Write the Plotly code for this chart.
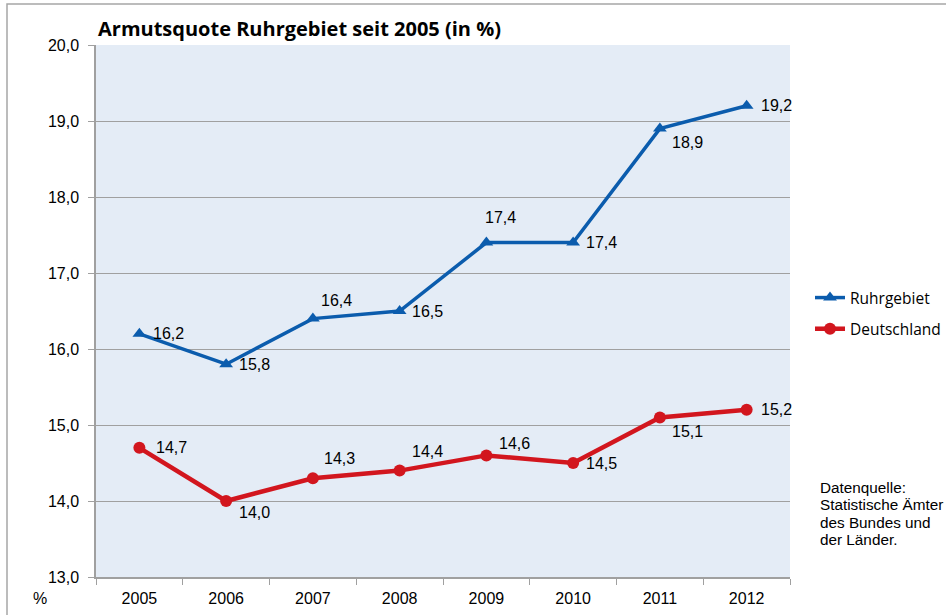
import plotly.graph_objects as go

years = ["2005", "2006", "2007", "2008", "2009", "2010", "2011", "2012"]
ruhr = [16.2, 15.8, 16.4, 16.5, 17.4, 17.4, 18.9, 19.2]
deut = [14.7, 14.0, 14.3, 14.4, 14.6, 14.5, 15.1, 15.2]
y_ticks = [13.0, 14.0, 15.0, 16.0, 17.0, 18.0, 19.0, 20.0]
source_lines = ["Datenquelle:", "Statistische Ämter", "des Bundes und", "der Länder."]

# label offsets (pixels) per point: (xshift, yshift)
ruhr_off = [(29, 0), (28, 0), (24, 18), (28, 0), (14, 25), (28, 0), (28, -14), (30, 0)]
deut_off = [(32, 0), (28, -11), (27, 20), (28, 19), (28, 12), (28, 0), (28, -14), (30, 0)]

BLUE = "#0B5CAD"
RED = "#D2161E"
NUMFONT = "Liberation Sans Narrow, Arial Narrow, Liberation Sans, Arial"

def fmt(v):
    return f"{v:.1f}".replace(".", ",")

fig = go.Figure()
fig.add_trace(go.Scatter(x=years, y=ruhr, name="Ruhrgebiet", mode="lines+markers",
                         legendgroup="a",
                         line=dict(color=BLUE, width=3.5),
                         marker=dict(symbol="triangle-up", size=12, color=BLUE)))
fig.add_trace(go.Scatter(x=years, y=deut, name="Deutschland", mode="lines+markers",
                         legendgroup="b",
                         line=dict(color=RED, width=4.5),
                         marker=dict(symbol="circle", size=12, color=RED)))

ann = []
for series, offs in ((ruhr, ruhr_off), (deut, deut_off)):
    for i, (v, (dx, dy)) in enumerate(zip(series, offs)):
        ann.append(dict(x=i, y=v, xref="x", yref="y", text=fmt(v), showarrow=False,
                        xshift=dx, yshift=dy, xanchor="center", yanchor="middle",
                        font=dict(family="Liberation Sans, Arial", size=16, color="#000")))

ann.append(dict(xref="paper", yref="paper", x=(40 - 96) / 694, y=-(598 - 577) / 532,
                text="%", showarrow=False, xanchor="center", yanchor="middle",
                font=dict(family=NUMFONT, size=16, color="#000")))
for k, line in enumerate(source_lines):
    ann.append(dict(xref="paper", yref="paper", x=(818 - 96) / 694,
                    y=1 - (487 + 17.6 * k - 45) / 532,
                    text=line, showarrow=False, xanchor="left", yanchor="middle", align="left",
                    font=dict(family="Liberation Sans, Arial", size=15.3, color="#000")))
ann.append(dict(xref="paper", yref="paper", x=(96 - 96) / 694, y=1 + (45 - 28) / 532,
                text="<b>Armutsquote Ruhrgebiet seit 2005 (in %)</b>", showarrow=False,
                xanchor="left", yanchor="middle",
                font=dict(family="Open Sans, Noto Sans", size=20, color="#000")))

fig.update_layout(
    width=946, height=615,
    margin=dict(l=96, r=156, t=45, b=38, autoexpand=False),
    paper_bgcolor="white", plot_bgcolor="#E4ECF6",
    showlegend=True,
    legend=dict(x=(810 - 96) / 694, y=1 - (281 - 45) / 532, xanchor="left", yanchor="top",
                font=dict(family="Open Sans, Noto Sans", size=15.5, color="#000"),
                bgcolor="rgba(0,0,0,0)", tracegroupgap=8, itemwidth=30),
    xaxis=dict(type="category", tickson="boundaries", ticks="outside", ticklen=6,
               tickcolor="#A0A0A0", showline=True, linecolor="#A0A0A0", linewidth=1.5,
               showgrid=False, ticklabelstandoff=6, automargin=False,
               tickfont=dict(family=NUMFONT, size=16, color="#000"),
               range=[-0.5, 7.5]),
    yaxis=dict(range=[13, 20], tickvals=y_ticks, ticktext=[fmt(v) for v in y_ticks],
               ticks="outside", ticklen=6, tickcolor="#A0A0A0", showline=True,
               linecolor="#A0A0A0", linewidth=1.5, showgrid=True, gridcolor="#A0A0A0",
               gridwidth=1, zeroline=False, ticklabelstandoff=6, automargin=False,
               tickfont=dict(family=NUMFONT, size=16, color="#000")),
    annotations=ann,
    shapes=[dict(type="rect", xref="paper", yref="paper",
                 x0=(7 - 96) / 694, x1=1.4, y0=-0.3, y1=1 + (45 - 4) / 532,
                 line=dict(color="#A6A6A6", width=1.5), fillcolor="rgba(0,0,0,0)", layer="below")],
)

fig.write_html("out.html", post_script="document.body.style.margin='0';",
               config={"displayModeBar": False})
